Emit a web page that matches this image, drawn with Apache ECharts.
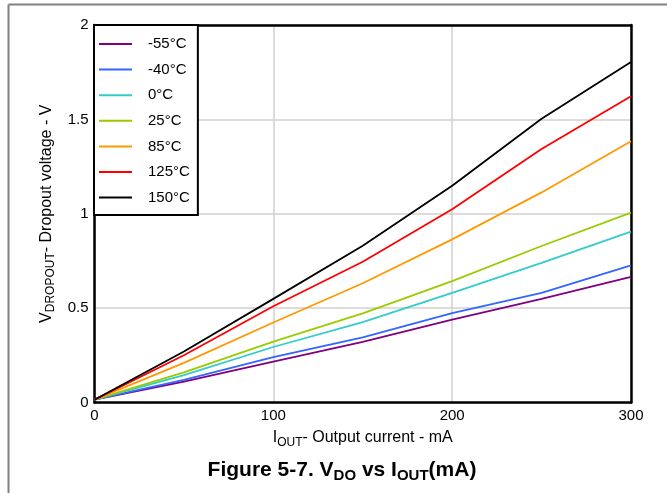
<!DOCTYPE html>
<html>
<head>
<meta charset="utf-8">
<script src="https://cdn.jsdelivr.net/npm/echarts@6/dist/echarts.min.js"></script>
<style>html,body{margin:0;padding:0;background:#fff;}#c{width:667px;height:493px;}</style>
</head>
<body>
<div id="c"></div>
<script>
const currents = [0, 50, 100, 150, 200, 250, 300];
const seriesNames = ['-55°C', '-40°C', '0°C', '25°C', '85°C', '125°C', '150°C'];
const vM55 = [0.015, 0.11, 0.217, 0.321, 0.439, 0.549, 0.666];
const vM40 = [0.015, 0.12, 0.240, 0.345, 0.474, 0.581, 0.726];
const v0 = [0.015, 0.145, 0.294, 0.426, 0.581, 0.740, 0.905];
const v25 = [0.015, 0.16, 0.323, 0.472, 0.643, 0.829, 1.006];
const v85 = [0.015, 0.21, 0.424, 0.632, 0.864, 1.113, 1.384];
const v125 = [0.015, 0.25, 0.510, 0.746, 1.024, 1.343, 1.623];
const v150 = [0.015, 0.27, 0.549, 0.830, 1.148, 1.503, 1.804];
const allValues = [vM55, vM40, v0, v25, v85, v125, v150];
const colors = ['#800080', '#3366ff', '#33cccc', '#99cc00', '#ff9900', '#ff0000', '#000000'];

const font = 'Liberation Sans, Arial, sans-serif';
const frameAxisLine = { show: true, onZero: false, lineStyle: { color: '#000', width: 2.5 } };
const chart = echarts.init(document.getElementById('c'));
chart.setOption({
  animation: false,
  backgroundColor: '#fff',
  textStyle: { fontFamily: font },
  graphic: [
    { type: 'line', shape: { x1: 8.5, y1: 4.5, x2: 667, y2: 4.5 }, style: { stroke: '#808080', lineWidth: 2 } },
    { type: 'line', shape: { x1: 8.5, y1: 4.5, x2: 8.5, y2: 493 }, style: { stroke: '#808080', lineWidth: 2 } }
  ],
  title: {
    text: 'Figure 5-7. V{sub|DO} vs I{sub|OUT}(mA)',
    left: 337, textAlign: 'center', top: 453,
    textStyle: {
      fontFamily: font, fontSize: 21, fontWeight: 'bold', color: '#000',
      rich: { sub: { fontFamily: font, fontSize: 15, fontWeight: 'bold', color: '#000', padding: [10, 0, 0, 0] } }
    }
  },
  legend: {
    orient: 'vertical', left: 94, top: 25,
    data: seriesNames,
    icon: 'rect', itemWidth: 33, itemHeight: 2, itemGap: 10.6,
    padding: [11.5, 8, 10, 5],
    borderColor: '#000', borderWidth: 2, backgroundColor: '#fff',
    textStyle: { fontFamily: font, fontSize: 15, color: '#000', padding: [0, 0, 0, 11] }
  },
  grid: { left: 94.5, right: 36, top: 25, bottom: 90.5, containLabel: false },
  xAxis: [{
    type: 'value', min: 0, max: 300, interval: 100,
    name: 'I{sub|OUT}- Output current - mA', nameLocation: 'middle', nameGap: 25,
    nameTextStyle: { fontFamily: font, fontSize: 16, color: '#000', rich: { sub: { fontFamily: font, fontSize: 12, color: '#000', padding: [9, 0, 0, 0] } } },
    axisLine: frameAxisLine,
    axisTick: { show: false },
    axisLabel: { fontFamily: font, fontSize: 15, color: '#000', margin: 6 },
    splitLine: { show: true, lineStyle: { color: '#d0d0d0', width: 1.5 } }
  }, {
    type: 'value', position: 'top', min: 0, max: 300, interval: 100,
    axisLine: frameAxisLine, axisTick: { show: false }, axisLabel: { show: false }, splitLine: { show: false }
  }],
  yAxis: [{
    type: 'value', min: 0, max: 2, interval: 0.5,
    name: 'V{sub|DROPOUT}- Dropout voltage - V', nameLocation: 'middle', nameGap: 37, nameRotate: 90,
    nameTextStyle: { fontFamily: font, fontSize: 16, color: '#000', rich: { sub: { fontFamily: font, fontSize: 12, color: '#000', padding: [9, 0, 0, 0] } } },
    axisLine: frameAxisLine,
    axisTick: { show: false },
    axisLabel: { fontFamily: font, fontSize: 15, color: '#000', margin: 6 },
    splitLine: { show: true, lineStyle: { color: '#d0d0d0', width: 1.5 } }
  }, {
    type: 'value', position: 'right', min: 0, max: 2, interval: 0.5,
    axisLine: frameAxisLine, axisTick: { show: false }, axisLabel: { show: false }, splitLine: { show: false }
  }],
  series: seriesNames.map((n, i) => ({
    name: n, type: 'line', showSymbol: false, symbol: 'none',
    xAxisIndex: 0, yAxisIndex: 0,
    data: currents.map((c, j) => [c, allValues[i][j]]),
    lineStyle: { color: colors[i], width: 1.8 },
    itemStyle: { color: colors[i] },
    z: 2 + i
  }))
});
</script>
</body>
</html>
